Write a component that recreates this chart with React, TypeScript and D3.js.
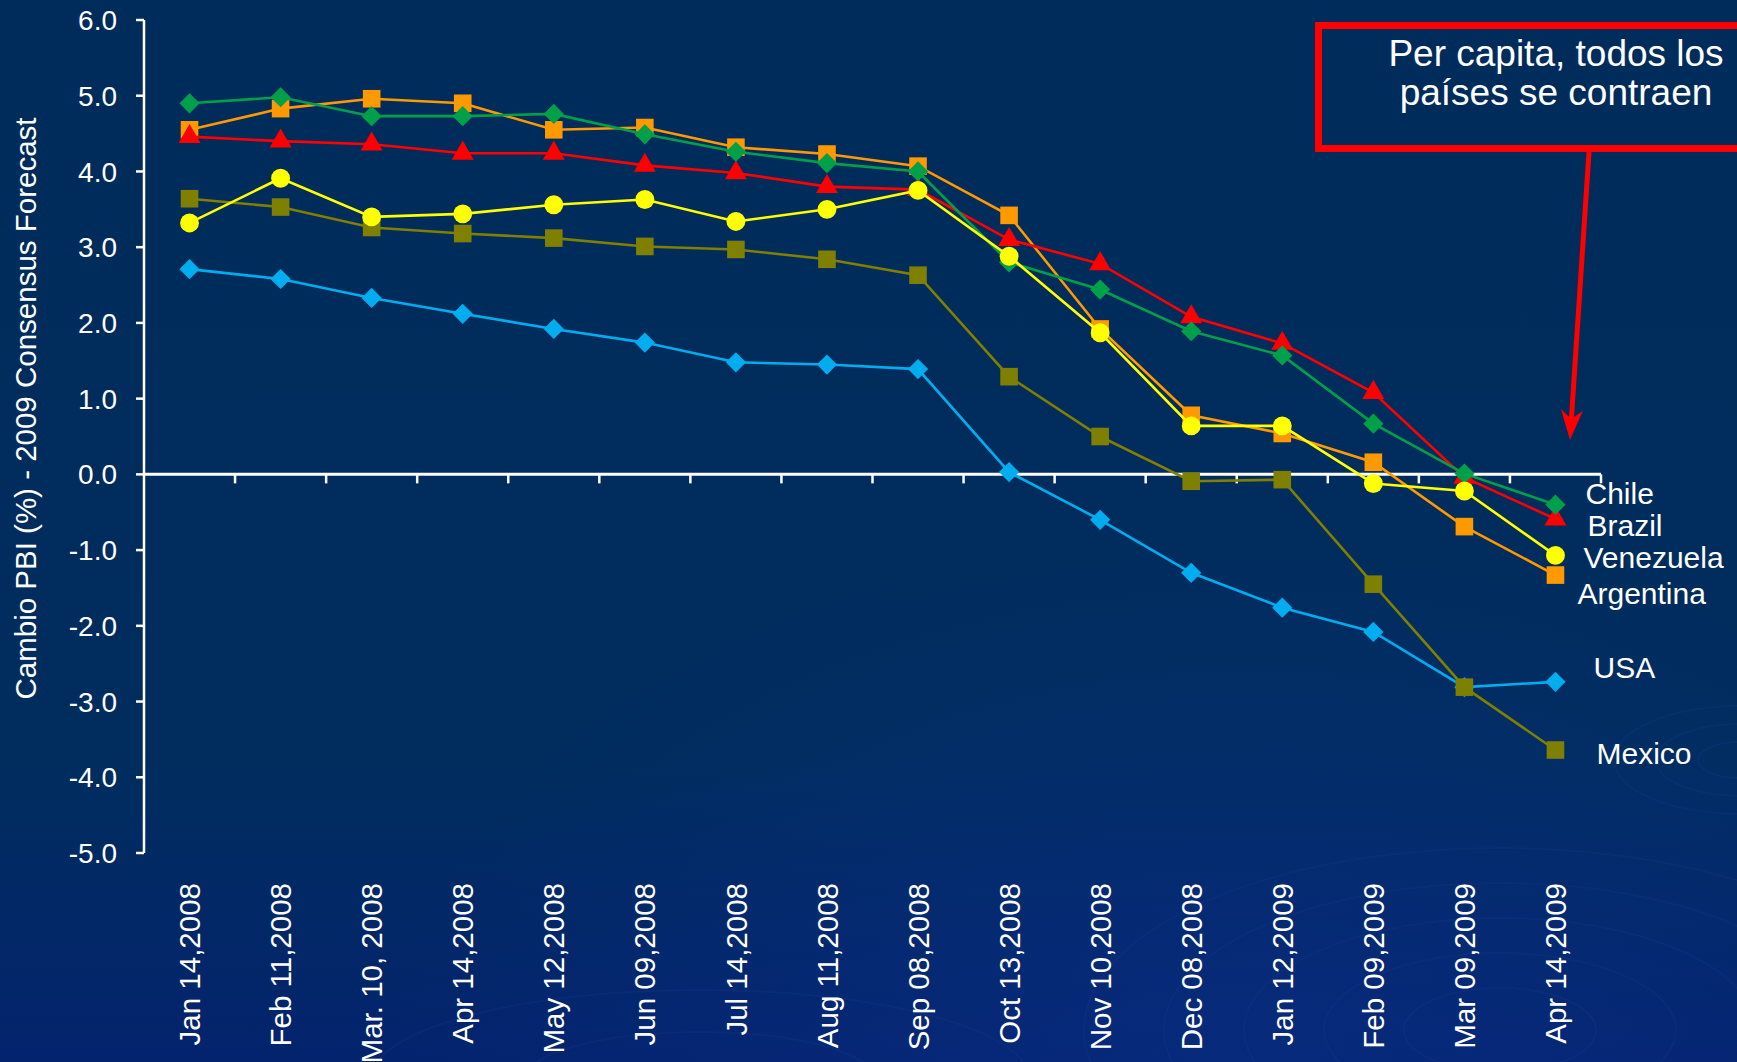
import React from "react";
import * as d3 from "d3";

const dates = [
  "Jan 14,2008", "Feb 11,2008", "Mar. 10, 2008", "Apr 14,2008", "May 12,2008", "Jun 09,2008",
  "Jul 14,2008", "Aug 11,2008", "Sep 08,2008", "Oct 13,2008", "Nov 10,2008", "Dec 08,2008",
  "Jan 12,2009", "Feb 09,2009", "Mar 09,2009", "Apr 14,2009",
];

const chile = [4.90, 4.98, 4.73, 4.73, 4.76, 4.49, 4.26, 4.11, 4.00, 2.80, 2.44, 1.89, 1.57, 0.67, 0.01, -0.40];
const brazil = [4.46, 4.40, 4.36, 4.24, 4.24, 4.08, 3.98, 3.80, 3.76, 3.10, 2.78, 2.08, 1.73, 1.08, -0.04, -0.59];
const argentina = [4.55, 4.83, 4.96, 4.90, 4.55, 4.58, 4.32, 4.23, 4.07, 3.42, 1.92, 0.78, 0.54, 0.16, -0.69, -1.33];
const venezuela = [3.32, 3.91, 3.40, 3.44, 3.56, 3.63, 3.34, 3.50, 3.75, 2.88, 1.87, 0.64, 0.64, -0.12, -0.22, -1.07];
const mexico = [3.64, 3.53, 3.26, 3.18, 3.12, 3.01, 2.97, 2.84, 2.63, 1.29, 0.50, -0.09, -0.07, -1.45, -2.81, -3.64];
const usa = [2.71, 2.58, 2.33, 2.12, 1.92, 1.74, 1.48, 1.45, 1.39, 0.03, -0.60, -1.30, -1.76, -2.08, -2.81, -2.74];

const yTicks = [6, 5, 4, 3, 2, 1, 0, -1, -2, -3, -4, -5];

const yTitle = "Cambio PBI (%) - 2009 Consensus Forecast";
const noteLines = ["Per capita, todos los", "países se contraen"];

type Series = {
  name: string;
  values: number[];
  color: string;
  symbol: d3.SymbolType;
  size: number;
  labelDx: number;
  labelY: number;
};

// drawn in this order (last on top)
const series: Series[] = [
  { name: "USA", values: usa, color: "#00AEEF", symbol: d3.symbolDiamond2, size: 260, labelDx: 38, labelY: -2.55 },
  { name: "Mexico", values: mexico, color: "#7F7F00", symbol: d3.symbolSquare, size: 310, labelDx: 41, labelY: -3.68 },
  { name: "Argentina", values: argentina, color: "#FF9900", symbol: d3.symbolSquare, size: 310, labelDx: 22, labelY: -1.57 },
  { name: "Brazil", values: brazil, color: "#FF0000", symbol: d3.symbolTriangle, size: 210, labelDx: 32, labelY: -0.67 },
  { name: "Chile", values: chile, color: "#00A04A", symbol: d3.symbolDiamond2, size: 260, labelDx: 30, labelY: -0.25 },
  { name: "Venezuela", values: venezuela, color: "#FFFF00", symbol: d3.symbolCircle, size: 280, labelDx: 28, labelY: -1.09 },
];

const W = 1737;
const H = 1062;
const FONT = "'Liberation Sans', Arial, sans-serif";
const fmt = (v: number) => d3.format(".1f")(v).replace("\u2212", "-");

export default function App() {
  const x = d3.scaleBand<string>().domain(dates).range([144, 1601]).paddingInner(0).paddingOuter(0);
  const y = d3.scaleLinear().domain([-5, 6]).range([853, 20]);
  const cx = (d: string) => (x(d) as number) + x.bandwidth() / 2;
  const line = d3
    .line<number>()
    .x((_, i) => cx(dates[i]))
    .y((v) => y(v));

  const y0 = y(0);
  const boundaries = dates.map((d) => (x(d) as number) + x.bandwidth());

  // arrow geometry
  const ax1 = 1589, ay1 = 152, ax2 = 1570, ay2 = 440;
  const ang = Math.atan2(ay2 - ay1, ax2 - ax1);
  const headLen = 30, headW = 11;
  const bx = ax2 - headLen * Math.cos(ang), by = ay2 - headLen * Math.sin(ang);
  const nx = -Math.sin(ang), ny = Math.cos(ang);
  const notchX = ax2 - headLen * 0.7 * Math.cos(ang), notchY = ay2 - headLen * 0.7 * Math.sin(ang);
  const head = `M${ax2},${ay2} L${bx + nx * headW},${by + ny * headW} L${notchX},${notchY} L${bx - nx * headW},${by - ny * headW} Z`;

  return (
    <svg
      width={W}
      height={H}
      style={{ position: "absolute", left: 0, top: 0, display: "block" }}
      fontFamily={FONT}
    >
      <defs>
        <linearGradient id="bg" x1="0" y1="0" x2="0" y2="1">
          <stop offset="0" stopColor="#002C5B" />
          <stop offset="0.72" stopColor="#002D5E" />
          <stop offset="1" stopColor="#04236E" />
        </linearGradient>
        <radialGradient id="glow" cx="0.72" cy="1" r="0.5">
          <stop offset="0" stopColor="#0A2E86" stopOpacity="0.6" />
          <stop offset="1" stopColor="#0A2E86" stopOpacity="0" />
        </radialGradient>
      </defs>
      <rect x={0} y={0} width={W} height={H} fill="url(#bg)" />
      <rect x={0} y={0} width={W} height={H} fill="url(#glow)" />
      {/* faint swirls */}
      <g fill="none" stroke="#1C3C8E" strokeOpacity={0.22} strokeWidth={2}>
        {[60, 110, 160, 210, 260].map((r) => (
          <ellipse key={"a" + r} cx={1500} cy={1030} rx={r * 1.6} ry={r * 0.7} />
        ))}
        {[30, 60, 90].map((r) => (
          <ellipse key={"b" + r} cx={1740} cy={760} rx={r * 1.4} ry={r * 0.6} />
        ))}
        {[80, 150].map((r) => (
          <ellipse key={"c" + r} cx={700} cy={1080} rx={r * 2.2} ry={r * 0.6} />
        ))}
      </g>

      {/* Y axis */}
      <line x1={144} x2={144} y1={y(6)} y2={y(-5)} stroke="#fff" strokeWidth={2.5} />
      {yTicks.map((t) => (
        <g key={t}>
          <line x1={136} x2={144} y1={y(t)} y2={y(t)} stroke="#fff" strokeWidth={2.5} />
          <text x={117} y={y(t)} dy="0.36em" textAnchor="end" fill="#fff" fontSize={28}>
            {fmt(t)}
          </text>
        </g>
      ))}
      <text
        transform={`translate(36,${(y(6) + y(-5)) / 2 - 28}) rotate(-90)`}
        textAnchor="middle"
        fill="#fff"
        fontSize={29.5}
      >
        {yTitle}
      </text>

      {/* X axis at zero */}
      <line x1={144} x2={1601} y1={y0} y2={y0} stroke="#fff" strokeWidth={3} />
      {boundaries.map((b, i) => (
        <line key={i} x1={b} x2={b} y1={y0} y2={y0 + 9} stroke="#fff" strokeWidth={2.5} />
      ))}
      {dates.map((d) => (
        <text
          key={d}
          transform={`translate(${cx(d)},883) rotate(-90)`}
          textAnchor="end"
          dy="0.36em"
          fill="#fff"
          fontSize={29.5}
        >
          {d}
        </text>
      ))}

      {/* series */}
      {series.map((s) => (
        <g key={s.name}>
          <path d={line(s.values) as string} fill="none" stroke={s.color} strokeWidth={2.6} />
          {s.values.map((v, i) => (
            <path
              key={i}
              transform={`translate(${cx(dates[i])},${y(v)})`}
              d={d3.symbol().type(s.symbol).size(s.size)() as string}
              fill={s.color}
            />
          ))}
        </g>
      ))}

      {/* series labels */}
      {series.map((s) => (
        <text
          key={"l" + s.name}
          x={cx(dates[dates.length - 1]) + s.labelDx}
          y={y(s.labelY)}
          dy="0.36em"
          fill="#fff"
          fontSize={30}
        >
          {s.name}
        </text>
      ))}

      {/* annotation */}
      <rect x={1318.5} y={25.5} width={500} height={123} fill="none" stroke="#FF0000" strokeWidth={7} />
      {noteLines.map((t, i) => (
        <text key={i} x={1556} y={66 + i * 39} textAnchor="middle" fill="#fff" fontSize={37}>
          {t}
        </text>
      ))}
      <line x1={ax1} y1={ay1} x2={notchX} y2={notchY} stroke="#FF0000" strokeWidth={5} />
      <path d={head} fill="#FF0000" />
    </svg>
  );
}
